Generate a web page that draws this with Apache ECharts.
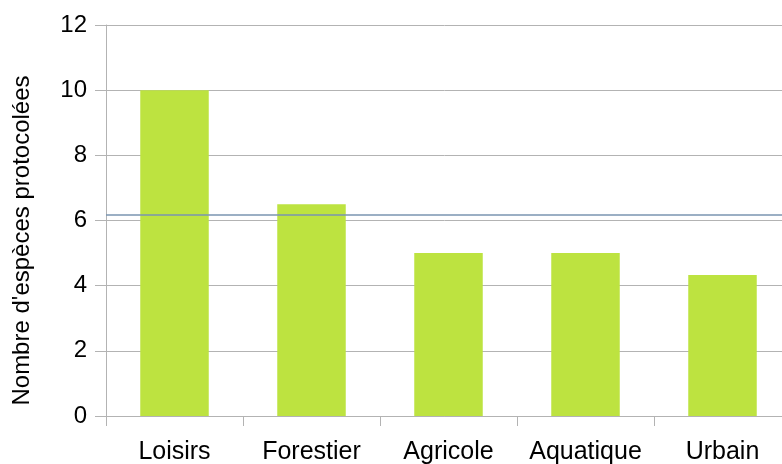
<!DOCTYPE html>
<html>
<head>
<meta charset="utf-8">
<script src="https://cdn.jsdelivr.net/npm/echarts@6/dist/echarts.min.js"></script>
<style>
  html, body { margin: 0; padding: 0; background: #fff; }
  #chart { width: 782px; height: 464px; }
</style>
</head>
<body>
<div id="chart"></div>
<script>
// données
const categories = ['Loisirs', 'Forestier', 'Agricole', 'Aquatique', 'Urbain']
const especes = [10, 6.5, 5, 5, 4.33]
const yTicks = { min: 0, max: 12, interval: 2 }

const grey = '#b3b3b3'
const chart = echarts.init(document.getElementById('chart'), null, { renderer: 'canvas' })

chart.setOption({
  animation: false,
  backgroundColor: '#fff',
  textStyle: { fontFamily: 'Liberation Sans' },
  grid: {
    left: 106, right: -9, top: 25, bottom: 48,
    containLabel: false,
    outerBoundsMode: 'none'
  },
  xAxis: {
    type: 'category',
    data: categories,
    axisLine: { lineStyle: { color: grey, width: 1 } },
    axisTick: { show: true, interval: 0, length: 10, alignWithLabel: false, lineStyle: { color: grey } },
    axisLabel: { color: '#000', fontSize: 25, margin: 24, interval: 0, hideOverlap: false }
  },
  yAxis: {
    type: 'value',
    min: yTicks.min,
    max: yTicks.max,
    interval: yTicks.interval,
    name: "Nombre d'espèces protocolées",
    nameLocation: 'middle',
    nameRotate: 90,
    nameGap: 72,
    nameTextStyle: { color: '#000', fontSize: 24, padding: [0, 40, 0, 0] },
    axisLine: { show: true, lineStyle: { color: grey, width: 1 } },
    axisTick: { show: true, length: 11, lineStyle: { color: grey } },
    axisLabel: { color: '#000', fontSize: 24, margin: 19 },
    splitLine: { lineStyle: { color: grey, width: 1 } }
  },
  series: [{
    type: 'bar',
    data: especes,
    barWidth: '50%',
    itemStyle: { color: '#bde340' },
    markLine: {
      silent: true,
      symbol: 'none',
      label: { show: false },
      lineStyle: { color: '#7a94b0', width: 1.5, type: 'solid' },
      data: [{ type: 'average' }]
    }
  }]
})
</script>
</body>
</html>
